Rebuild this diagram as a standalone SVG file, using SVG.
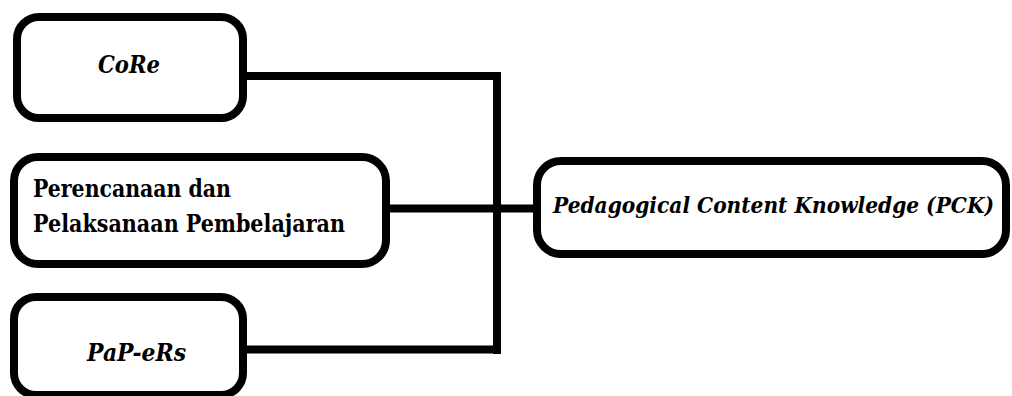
<svg xmlns="http://www.w3.org/2000/svg" width="1012" height="396" viewBox="0 0 1012 396">
<style>
.box{fill:#fff;stroke:#000;stroke-width:8}
.conn{stroke:#000;stroke-width:8;fill:none;stroke-linecap:butt}
text{font-family:'DejaVu Serif',serif;font-weight:bold;fill:#000}
.it{font-style:italic;font-size:25px}
.up{font-size:24.5px}
.pck{font-style:italic;font-size:23px}
</style>
<rect width="1012" height="396" fill="#fff"/>
<g id="connectors">
<line class="conn" x1="245" y1="76" x2="501" y2="76"/>
<line class="conn" x1="388" y1="208.5" x2="535" y2="208.5"/>
<line class="conn" x1="245" y1="349.5" x2="501" y2="349.5"/>
<line class="conn" x1="497" y1="72" x2="497" y2="354"/>
</g>
<g id="node-core">
<rect class="box" x="17" y="17" width="226" height="101" rx="22"/>
<text class="it" x="98" y="73" textLength="62" lengthAdjust="spacingAndGlyphs">CoRe</text>
</g>
<g id="node-perencanaan">
<rect class="box" x="14" y="157" width="372" height="107" rx="24"/>
<text class="up" x="33" y="197" textLength="198" lengthAdjust="spacingAndGlyphs">Perencanaan dan</text>
<text class="up" x="33" y="232" textLength="312" lengthAdjust="spacingAndGlyphs">Pelaksanaan Pembelajaran</text>
</g>
<g id="node-papers">
<rect class="box" x="14" y="297" width="229" height="98" rx="22"/>
<text class="it" x="87" y="361" textLength="99" lengthAdjust="spacingAndGlyphs">PaP-eRs</text>
</g>
<g id="node-pck">
<rect class="box" x="537" y="161" width="469" height="93" rx="24"/>
<text class="pck" x="553" y="213" textLength="441" lengthAdjust="spacingAndGlyphs">Pedagogical Content Knowledge (PCK)</text>
</g>
</svg>
